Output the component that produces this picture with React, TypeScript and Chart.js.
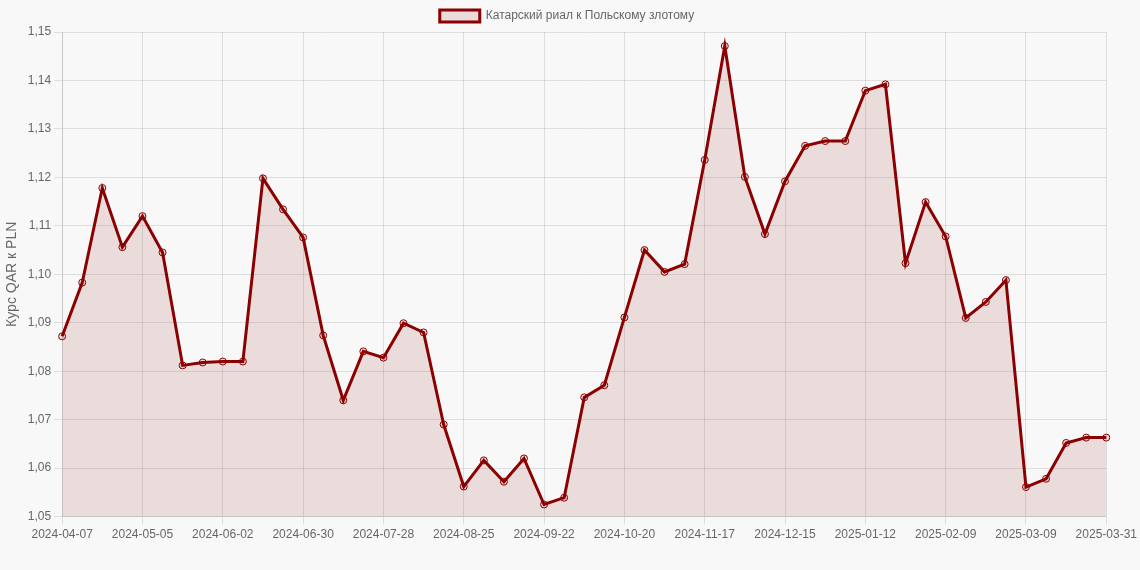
import React, { useEffect, useRef } from "react";
import { Chart, registerables } from "chart.js";

Chart.register(...registerables);

const labels: string[] = [
  "2024-04-07", "2024-04-14", "2024-04-21", "2024-04-28", "2024-05-05", "2024-05-12", "2024-05-19", "2024-05-26",
  "2024-06-02", "2024-06-09", "2024-06-16", "2024-06-23", "2024-06-30", "2024-07-07", "2024-07-14", "2024-07-21",
  "2024-07-28", "2024-08-04", "2024-08-11", "2024-08-18", "2024-08-25", "2024-09-01", "2024-09-08", "2024-09-15",
  "2024-09-22", "2024-09-29", "2024-10-06", "2024-10-13", "2024-10-20", "2024-10-27", "2024-11-03", "2024-11-10",
  "2024-11-17", "2024-11-24", "2024-12-01", "2024-12-08", "2024-12-15", "2024-12-22", "2024-12-29", "2025-01-05",
  "2025-01-12", "2025-01-19", "2025-01-26", "2025-02-02", "2025-02-09", "2025-02-16", "2025-02-23", "2025-03-02",
  "2025-03-09", "2025-03-16", "2025-03-23", "2025-03-30", "2025-03-31",
];

const rates: number[] = [
  1.0872, 1.0983, 1.1178, 1.1056, 1.112, 1.1045, 1.0812, 1.0818,
  1.082, 1.082, 1.1198, 1.1134, 1.1076, 1.0874, 1.074, 1.0841,
  1.0828, 1.0899, 1.088, 1.069, 1.0562, 1.0616, 1.0572, 1.062,
  1.0525, 1.0539, 1.0746, 1.0771, 1.0911, 1.105, 1.1005, 1.1021,
  1.1236, 1.1471, 1.1201, 1.1083, 1.1192, 1.1265, 1.1275, 1.1275,
  1.1379, 1.1392, 1.1023, 1.1149, 1.1078, 1.091, 1.0943, 1.0988,
  1.0561, 1.0578, 1.0652, 1.0663, 1.0663,
];

const seriesName = "Катарский риал к Польскому злотому";
const yTitle = "Курс QAR к PLN";

export default function App() {
  const ref = useRef<HTMLCanvasElement | null>(null);
  useEffect(() => {
    document.body.style.margin = "0";
    document.body.style.background = "#f8f8f8";
    if (!ref.current) return;
    const chart = new Chart(ref.current, {
      type: "line",
      data: {
        labels,
        datasets: [
          {
            label: seriesName,
            data: rates,
            borderColor: "#8b0000",
            backgroundColor: "rgba(139,0,0,0.11)",
            fill: true,
            borderWidth: 3,
            tension: 0,
            pointRadius: 3.5,
            pointBorderWidth: 1,
            pointBackgroundColor: "rgba(139,0,0,0.11)",
            pointBorderColor: "#8b0000",
          },
        ],
      },
      options: {
        animation: false,
        responsive: false,
        maintainAspectRatio: false,
        layout: { padding: { left: 0, right: 6, top: 0, bottom: 25 } },
        plugins: {
          legend: {
            display: true,
            labels: { color: "#666", font: { size: 12 }, boxWidth: 40, boxHeight: 12 },
          },
          tooltip: { enabled: false },
        },
        scales: {
          x: {
            grid: {
              color: (ctx: any) => (ctx.index % 4 === 0 ? "rgba(0,0,0,0.1)" : "rgba(0,0,0,0)"),
            },
            ticks: {
              color: "#666",
              font: { size: 12 },
              maxRotation: 0,
              autoSkip: false,
              callback: (_v: any, i: number) => (i % 4 === 0 ? labels[i] : ""),
            },
          },
          y: {
            min: 1.05,
            max: 1.15,
            grid: { color: "rgba(0,0,0,0.1)" },
            title: { display: true, text: yTitle, color: "#666", font: { size: 14 } },
            ticks: {
              color: "#666",
              font: { size: 12 },
              stepSize: 0.01,
              callback: (v: any) => Number(v).toFixed(2).replace(".", ","),
            },
          },
        },
      },
    });
    return () => chart.destroy();
  }, []);
  return (
    <div style={{ width: 1140, height: 570, background: "#f8f8f8" }}>
      <canvas ref={ref} width={1140} height={570} style={{ display: "block" }} />
    </div>
  );
}
